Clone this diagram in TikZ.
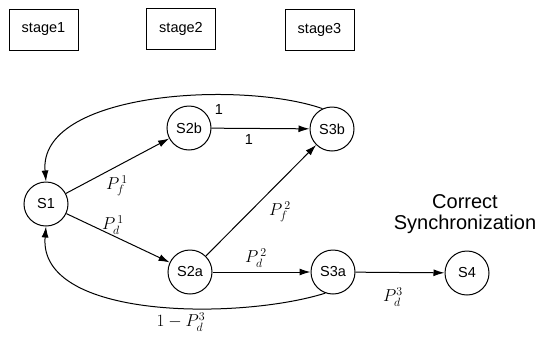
\documentclass[tikz,border=0pt]{standalone}
\usepackage{fontspec}
\setmainfont{Liberation Sans}
\usetikzlibrary{arrows.meta}
\begin{document}
\begin{tikzpicture}[x=1pt,y=-1pt,
  stagebox/.style={draw,line width=1pt,minimum width=69pt,minimum height=41pt,inner sep=0pt,font=\fontsize{14.5}{16}\selectfont},
  state/.style={draw,circle,line width=1pt,minimum size=44pt,inner sep=0pt,font=\fontsize{14.5}{16}\selectfont},
  arr/.style={line width=1pt,-{Latex[length=11pt,width=7pt]}},
  lab/.style={font=\fontsize{17}{20}\selectfont,inner sep=0pt},
  one/.style={font=\fontsize{14.5}{16}\selectfont,inner sep=0pt}]
\useasboundingbox (0,0) rectangle (544,338);
\node[stagebox] (st1) at (43.5,29.5) {stage1};
\node[stagebox] (st2) at (181,29) {stage2};
\node[stagebox] (st3) at (319.5,29.5) {stage3};
\node[state] (s1) at (46,204) {S1};
\node[state] (s2b) at (189,128) {S2b};
\node[state] (s2a) at (190,272) {S2a};
\node[state] (s3b) at (332,129) {S3b};
\node[state] (s3a) at (333,272) {S3a};
\node[state] (s4) at (467,273) {S4};
\node[font=\fontsize{20}{24}\selectfont,align=center,inner sep=0pt] (cs) at (465,214) {Correct\\[-3pt]Synchronization};
\draw[arr] (s1) -- (s2b);
\draw[arr] (s1) -- (s2a);
\draw[arr] (s2b) -- (s3b);
\draw[arr] (s2a) -- (s3b);
\draw[arr] (s2a) -- (s3a);
\draw[arr] (s3a) -- (s4);
\draw[arr] (s3b.115) .. controls (240,80) and (38,92) .. (s1.north);
\draw[arr] (s3a.250) .. controls (240,320) and (38,320) .. (s1.south);
\node[lab] (l1) at (117,186) {$P_f^{\,1}$};
\node[lab] (l2) at (113,225) {$P_d^{\,1}$};
\node[lab] (l3) at (280,212) {$P_f^{\,2}$};
\node[lab] (l4) at (256,258) {$P_d^{\,2}$};
\node[lab] (l5) at (393,297) {$P_d^{3}$};
\node[lab] (l6) at (181,322) {$1-P_d^{3}$};
\node[one] (o1) at (219,110) {1};
\node[one] (o2) at (249,140) {1};
\end{tikzpicture}
\end{document}
